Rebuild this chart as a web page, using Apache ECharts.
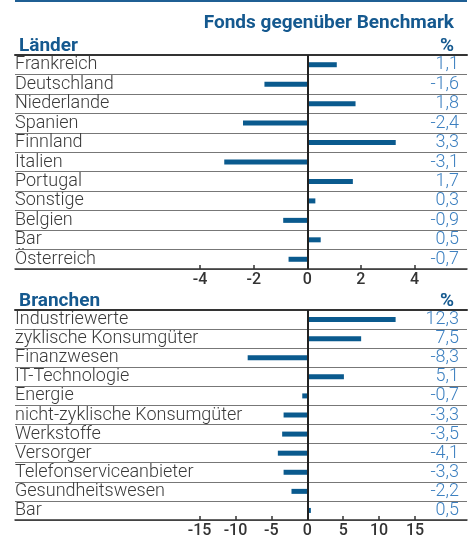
<!DOCTYPE html>
<html>
<head>
<meta charset="utf-8">
<script src="https://cdn.jsdelivr.net/npm/echarts@6/dist/echarts.min.js"></script>
<style>
  html, body { margin: 0; padding: 0; background: #fff; }
  #chart { width: 469px; height: 539px; }
</style>
</head>
<body>
<div id="chart"></div>
<script>
const countries = ['Frankreich', 'Deutschland', 'Niederlande', 'Spanien', 'Finnland', 'Italien', 'Portugal', 'Sonstige', 'Belgien', 'Bar', 'Österreich'];
const countryValues = [1.1, -1.6, 1.8, -2.4, 3.3, -3.1, 1.7, 0.3, -0.9, 0.5, -0.7];
const countryTicks = [-4, -2, 0, 2, 4];

const sectors = ['Industriewerte', 'zyklische Konsumgüter', 'Finanzwesen', 'IT-Technologie', 'Energie', 'nicht-zyklische Konsumgüter', 'Werkstoffe', 'Versorger', 'Telefonserviceanbieter', 'Gesundheitswesen', 'Bar'];
const sectorValues = [12.3, 7.5, -8.3, 5.1, -0.7, -3.3, -3.5, -4.1, -3.3, -2.2, 0.5];
const sectorTicks = [-15, -10, -5, 0, 5, 10, 15];

const fmt = (v) => v.toFixed(1).replace('.', ',');
const BLUE = '#15598f';
const BAR = '#0a5a8e';
const FONT = 'Roboto';

const chart = echarts.init(document.getElementById('chart'));

function valueAxes(idx, min, max, ticks) {
  return [
    {
      type: 'value', gridIndex: idx, min: min, max: max, position: 'bottom',
      axisLine: { show: true, lineStyle: { color: '#333', width: 1.5 } },
      axisTick: { show: true, inside: true, length: 4, customValues: ticks, lineStyle: { color: '#333', width: 1.5 } },
      axisLabel: { customValues: ticks, color: '#333', fontSize: 16, fontWeight: 500, fontFamily: FONT, margin: 3 },
      splitLine: { show: false }
    },
    {
      type: 'value', gridIndex: idx, min: min, max: max, position: 'top',
      axisLine: { show: true, lineStyle: { color: '#333', width: 2 } },
      axisTick: { show: false }, axisLabel: { show: false }, splitLine: { show: false }
    }
  ];
}

function catAxes(idx, cats, vals) {
  return [
    {
      type: 'category', gridIndex: idx, data: cats, inverse: true, position: 'left',
      axisLine: { show: false }, axisTick: { show: false, interval: 0 },
      axisLabel: { inside: true, interval: 0, margin: 0, padding: [3, 0, 0, 0], color: '#3a3a3a', fontSize: 18, fontWeight: 300, fontFamily: FONT },
      splitLine: { show: true, interval: 0, lineStyle: { color: '#777', width: 1 } }
    },
    {
      type: 'category', gridIndex: idx, data: vals.map(fmt), inverse: true, position: 'right',
      axisLine: { show: false }, axisTick: { show: false },
      axisLabel: { inside: true, interval: 0, margin: 8, padding: [3, 0, 0, 0], color: '#3d80c0', fontSize: 18, fontWeight: 300, fontFamily: FONT },
      splitLine: { show: false }
    }
  ];
}

function barSeries(idx, vals) {
  return {
    type: 'bar', xAxisIndex: idx * 2, yAxisIndex: idx * 2, data: vals,
    barWidth: 5, itemStyle: { color: BAR }, silent: true,
    markLine: {
      silent: true, symbol: 'none', label: { show: false },
      lineStyle: { color: '#222', width: 2, type: 'solid' },
      data: [{ xAxis: 0 }]
    }
  };
}

const headStyle = { color: BLUE, fontSize: 19, fontWeight: 'bold', fontFamily: FONT };

chart.setOption({
  animation: false,
  title: [
    { text: 'Fonds gegenüber Benchmark', right: 10, top: 9, textStyle: headStyle },
    { text: 'Länder', left: 14, top: 32, textStyle: headStyle },
    { text: '%', right: 10, top: 32, textStyle: headStyle },
    { text: 'Branchen', left: 14, top: 287, textStyle: headStyle },
    { text: '%', right: 10, top: 287, textStyle: headStyle }
  ],
  graphic: [
    { type: 'rect', shape: { x: 15, y: 0, width: 452, height: 2 }, style: { fill: '#1f5f94' } }
  ],
  grid: [
    { left: 15, right: 2, top: 55, height: 214 },
    { left: 15, right: 2, top: 310, height: 213 }
  ],
  xAxis: valueAxes(0, -10.91, 5.96, countryTicks).concat(valueAxes(1, -40.7, 22.24, sectorTicks)),
  yAxis: catAxes(0, countries, countryValues).concat(catAxes(1, sectors, sectorValues)),
  series: [barSeries(0, countryValues), barSeries(1, sectorValues)]
});
</script>
</body>
</html>
